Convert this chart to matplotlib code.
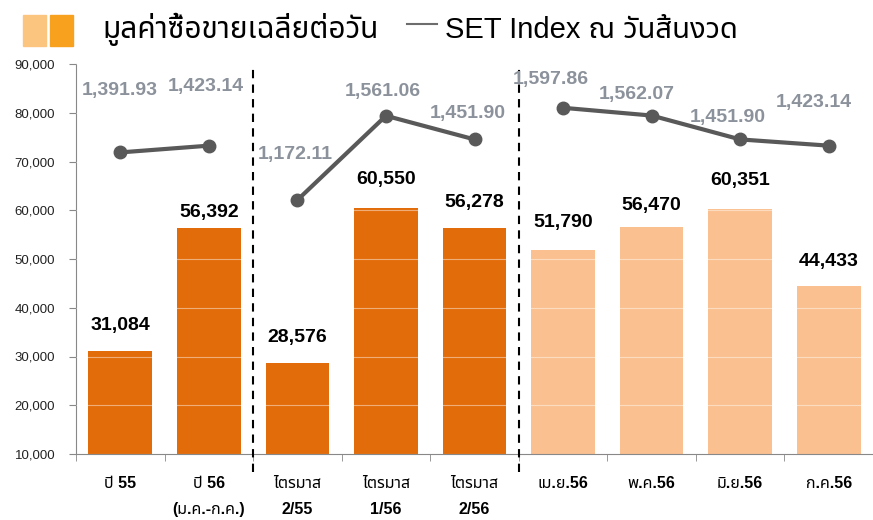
import numpy as np
import matplotlib
matplotlib.use('Agg')
import matplotlib.pyplot as plt
from matplotlib import font_manager, ft2font
from matplotlib.patches import Rectangle
from matplotlib.lines import Line2D

categories = ['ปี 55', 'ปี 56\n(ม.ค.-ก.ค.)', 'ไตรมาส\n2/55', 'ไตรมาส\n1/56', 'ไตรมาส\n2/56',
              'เม.ย.56', 'พ.ค.56', 'มิ.ย.56', 'ก.ค.56']
turnover = [31084, 56392, 28576, 60550, 56278, 51790, 56470, 60351, 44433]
set_index = [1391.93, 1423.14, 1172.11, 1561.06, 1451.90, 1597.86, 1562.07, 1451.90, 1423.14]
groups = [(0, 2), (2, 5), (5, 9)]
bar_colors = ['#E36C0A'] * 5 + ['#FAC090'] * 4


def find_thai_font():
    # pick any installed family that can draw Thai
    names = []
    for f in font_manager.fontManager.ttflist:
        try:
            cmap = ft2font.FT2Font(f.fname).get_charmap()
        except Exception:
            continue
        if 0x0E21 in cmap and 0x0E39 in cmap:
            names.append(f.name)
    for pref in ['Tahoma', 'Noto Sans Thai', 'Noto Sans Thai UI', 'Loma', 'Garuda', 'Norasi']:
        if pref in names:
            return pref
    return names[0] if names else 'DejaVu Sans'


thai = find_thai_font()
fam = ['Liberation Sans', thai, 'DejaVu Sans']
plt.rcParams['font.family'] = fam

fig = plt.figure(figsize=(8.73, 5.2), dpi=100)
ax = fig.add_axes([76 / 873, 1 - 454 / 520, 1 - 76 / 873, 390 / 520])

x = np.arange(len(categories))
ax.bar(x, np.array(turnover) - 10000, bottom=10000, width=0.72, color=bar_colors, zorder=1)
ax.set_xlim(-0.5, 8.5)
ax.set_ylim(10000, 90000)
ax.set_yticks(np.arange(10000, 90001, 10000))
ax.set_yticklabels([f'{v:,}' for v in range(10000, 90001, 10000)], fontsize=9.5, color='#222222')
ax.tick_params(axis='y', length=5, color='#888888', pad=10)

ax.set_xticks(x)
ax.set_xticklabels(categories, fontsize=11.5, fontweight='bold', linespacing=1.9)
ax.set_xticks(np.arange(-0.5, 9, 1), minor=True)
ax.tick_params(axis='x', which='major', length=0, pad=16)
ax.tick_params(axis='x', which='minor', length=5, color='#888888')

for s in ['top', 'right']:
    ax.spines[s].set_visible(False)
for s in ['left', 'bottom']:
    ax.spines[s].set_color('#888888')

ax.yaxis.grid(True, color='white', alpha=0.45, lw=0.8)
ax.set_axisbelow(False)

bar_off = [26, 15, 26, 28, 26, 28, 22, 28, 25]
for i, v in enumerate(turnover):
    ax.annotate(f'{v:,}', (i, v), xytext=(0, bar_off[i] * 0.72), textcoords='offset points',
                ha='center', va='center', fontsize=14, fontweight='bold', color='black')

for xv in [1.5, 4.5]:
    ax.axvline(xv, ymin=-0.046, ymax=0.99, color='black', lw=1.5, ls=(0, (4, 3)), clip_on=False, zorder=3)

ax2 = ax.twinx()
ax2.set_ylim(0, 1800)
ax2.axis('off')
for a, b in groups:
    ax2.plot(x[a:b], set_index[a:b], color='#595959', lw=3, marker='o', ms=9, zorder=4)

lab_off = [(-1, 62), (-3, 59), (-2, 46), (-3, 24), (-7, 26), (-12, 28), (-15, 21), (-12, 22), (-15, 43)]
for i, v in enumerate(set_index):
    dx, dy = lab_off[i]
    ax2.annotate(f'{v:,.2f}', (i, v), xytext=(dx * 0.72, dy * 0.72), textcoords='offset points',
                 ha='center', va='center', fontsize=14, fontweight='bold', color='#8C929B')

# legend drawn by hand
fig.patches.append(Rectangle((23 / 873, 1 - 46 / 520), 23 / 873, 31 / 520, transform=fig.transFigure,
                             color='#FBC580', figure=fig))
fig.patches.append(Rectangle((50 / 873, 1 - 46 / 520), 23 / 873, 31 / 520, transform=fig.transFigure,
                             color='#F7A11F', figure=fig))
fig.text(102 / 873, 1 - 38 / 520, 'มูลค่าซื้อขายเฉลี่ยต่อวัน', fontsize=21.5, va='baseline', ha='left')
fig.lines.append(Line2D([407 / 873, 437 / 873], [1 - 24 / 520] * 2, transform=fig.transFigure,
                        color='#6D6D6D', lw=1.5))
fig.text(445 / 873, 1 - 38 / 520, 'SET Index ณ วันสิ้นงวด', fontsize=21, va='baseline', ha='left')

fig.savefig('out.png', dpi=100)
